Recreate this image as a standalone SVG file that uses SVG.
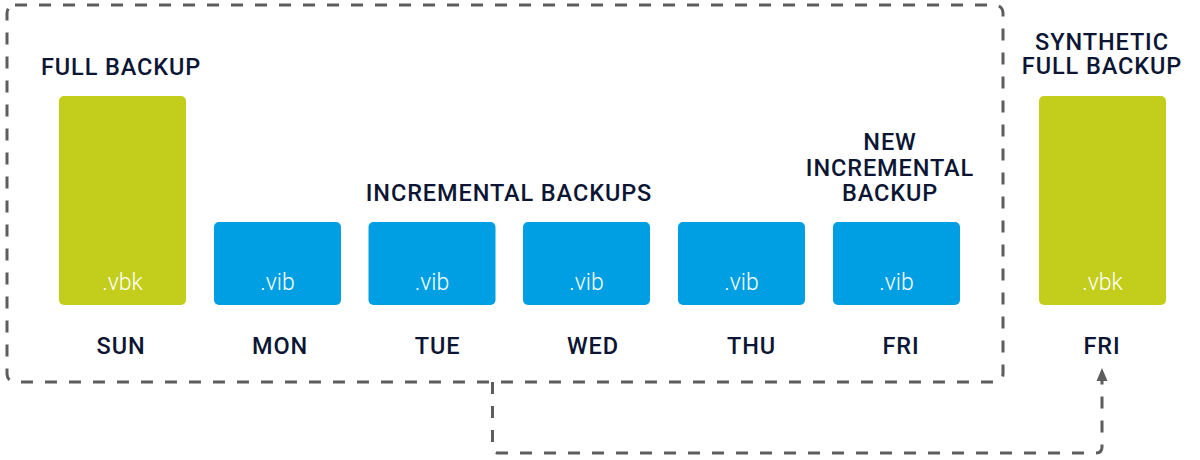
<svg xmlns="http://www.w3.org/2000/svg" width="1200" height="460" viewBox="0 0 1200 460">
  <style>
    .frame { fill: none; stroke: #5d5d5d; stroke-width: 3; stroke-dasharray: 12 12; }
    .conn { fill: none; stroke: #5d5d5d; stroke-width: 3; stroke-dasharray: 12 12; }
    .full { fill: #C3CD1C; }
    .inc { fill: #009FE3; }
    .ext { font-family: Roboto, "Liberation Sans", sans-serif; font-weight: 300; font-size: 23px; fill: #ffffff; text-anchor: middle; }
    .lbl { font-family: Roboto, "Liberation Sans", sans-serif; font-weight: 500; font-size: 23.5px; fill: #0c1634; text-anchor: middle; letter-spacing: 0.9px; }
  </style>
  <defs>
    <marker id="arrow" markerUnits="userSpaceOnUse" markerWidth="14" markerHeight="12" viewBox="0 0 14 12" refX="0" refY="6" orient="auto">
      <path d="M0,0.5 L13,6 L0,11.5 z" fill="#5d5d5d"/>
    </marker>
  </defs>

  <rect class="frame" x="7" y="5" width="996" height="377" rx="8" ry="8"/>

  <g id="titles">
    <text class="lbl" x="41" y="75" style="text-anchor:start">FULL BACKUP</text>
    <text class="lbl" x="509" y="201">INCREMENTAL BACKUPS</text>
    <text class="lbl" x="890" y="150">NEW</text>
    <text class="lbl" x="890" y="176">INCREMENTAL</text>
    <text class="lbl" x="890" y="201">BACKUP</text>
    <text class="lbl" x="1102" y="50">SYNTHETIC</text>
    <text class="lbl" x="1102" y="74">FULL BACKUP</text>
  </g>

  <g id="sun">
    <rect class="full" x="59" y="96" width="127" height="209" rx="5"/>
    <text class="ext" x="122.5" y="290">.vbk</text>
    <text class="lbl" x="121" y="354">SUN</text>
  </g>
  <g id="mon">
    <rect class="inc" x="214" y="222" width="127" height="83" rx="5"/>
    <text class="ext" x="277.5" y="290">.vib</text>
    <text class="lbl" x="280" y="354">MON</text>
  </g>
  <g id="tue">
    <rect class="inc" x="368.5" y="222" width="127" height="83" rx="5"/>
    <text class="ext" x="432" y="290">.vib</text>
    <text class="lbl" x="437.5" y="354">TUE</text>
  </g>
  <g id="wed">
    <rect class="inc" x="523" y="222" width="127" height="83" rx="5"/>
    <text class="ext" x="586.5" y="290">.vib</text>
    <text class="lbl" x="593" y="354">WED</text>
  </g>
  <g id="thu">
    <rect class="inc" x="678" y="222" width="127" height="83" rx="5"/>
    <text class="ext" x="741.5" y="290">.vib</text>
    <text class="lbl" x="751.5" y="354">THU</text>
  </g>
  <g id="fri">
    <rect class="inc" x="833" y="222" width="127" height="83" rx="5"/>
    <text class="ext" x="896.5" y="290">.vib</text>
    <text class="lbl" x="901" y="354">FRI</text>
  </g>
  <g id="synthetic-fri">
    <rect class="full" x="1039" y="96" width="127" height="209" rx="5"/>
    <text class="ext" x="1102.5" y="290">.vbk</text>
    <text class="lbl" x="1102" y="354">FRI</text>
  </g>

  <g id="connectors">
    <path class="conn" d="M492.5,382 V447 Q492.5,453 498.5,453 H1096 Q1102,453 1102,447 V381" marker-end="url(#arrow)"/>
  </g>
</svg>
